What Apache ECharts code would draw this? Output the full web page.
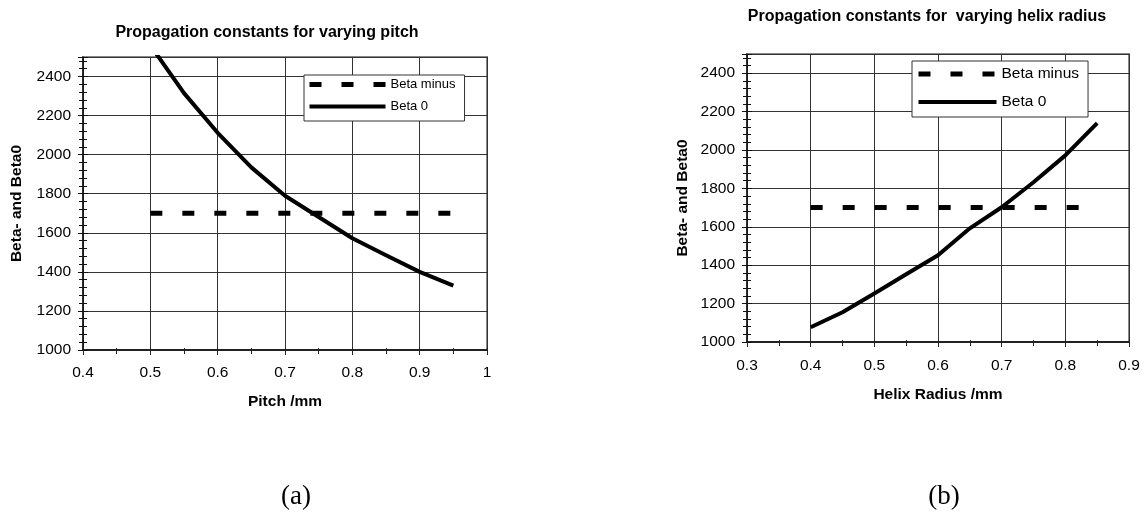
<!DOCTYPE html>
<html>
<head>
<meta charset="utf-8">
<style>
  body,
  html {
    overflow: hidden;
    width: 100%;
    height: 100%;
    margin: 0;
    padding: 0;
    background: #fff;
  }
  .chart-wrapper {
    position: relative;
    width: 1145px;
    height: 512px;
  }
</style>
</head>
<body>
<div id="chart-wrapper" class="chart-wrapper"></div>

<script src="https://cdn.jsdelivr.net/npm/echarts@6/dist/echarts.min.js"></script>

<script>
  // (a) varying pitch
  const pitchX = [0.5, 0.55, 0.6, 0.65, 0.7, 0.75, 0.8, 0.85, 0.9, 0.95];
  const pitchBeta0 = [2560, 2315, 2112, 1935, 1790, 1681, 1572, 1485, 1400, 1330];
  const pitchBetaMinus = [1700, 1700, 1700, 1700, 1700, 1700, 1700, 1700, 1700, 1700];

  // (b) varying helix radius
  const radiusX = [0.4, 0.45, 0.5, 0.55, 0.6, 0.65, 0.7, 0.75, 0.8, 0.85];
  const radiusBeta0 = [1077, 1155, 1253, 1353, 1452, 1592, 1702, 1832, 1972, 2140];
  const radiusBetaMinus = [1700, 1700, 1700, 1700, 1700, 1700, 1700, 1700, 1700, 1700];

  const seriesNames = ["Beta minus", "Beta 0"];
  const titles = [
    "Propagation constants for varying pitch",
    "Propagation constants for  varying helix radius",
  ];
  const xNames = ["Pitch /mm", "Helix Radius /mm"];
  const yName = "Beta- and Beta0";
  const xRanges = [
    [0.4, 1.0],
    [0.3, 0.9],
  ];
  const yRange = [1000, 2500];

  const FONT = "'Liberation Sans', Arial, sans-serif";

  const zip = (xs, ys) => xs.map((x, i) => [x, ys[i]]);

  const chartDom = document.getElementById("chart-wrapper");
  const chart = echarts.init(chartDom, null, { renderer: "canvas" });

  const grids = [
    { left: 83, top: 57, width: 404, height: 293 },
    { left: 747, top: 54, width: 382, height: 288 },
  ];

  const makeX = (i, overlay) => ({
    type: "value",
    gridIndex: i,
    position: "bottom",
    min: xRanges[i][0],
    max: xRanges[i][1],
    interval: 0.1,
    name: overlay ? "" : xNames[i],
    nameLocation: "middle",
    nameGap: i === 0 ? 44 : 45,
    nameTextStyle: { fontFamily: FONT, fontWeight: "bold", fontSize: 15.5, color: "#000" },
    axisLine: { show: !overlay, onZero: false, lineStyle: { color: "#222", width: 2 } },
    axisTick: { show: true, inside: overlay, length: overlay ? 3 : 5, lineStyle: { color: "#222", width: 1 } },
    minorTick: { show: true, splitNumber: 2, length: overlay ? 2 : 4, lineStyle: { color: "#222", width: 1 } },
    axisLabel: {
      show: !overlay,
      margin: i === 0 ? 15 : 16,
      fontFamily: FONT,
      fontSize: 15.5,
      color: "#000",
      formatter: (v) => String(Math.round(v * 10) / 10),
    },
    splitLine: { show: !overlay, lineStyle: { color: "#333", width: 1 } },
    minorSplitLine: { show: false },
  });

  const makeY = (i, overlay) => ({
    type: "value",
    gridIndex: i,
    position: "left",
    min: yRange[0],
    max: yRange[1],
    interval: 200,
    name: overlay ? "" : yName,
    nameLocation: "middle",
    nameGap: i === 0 ? 58 : 56,
    nameTextStyle: { fontFamily: FONT, fontWeight: "bold", fontSize: 15.5, color: "#000" },
    axisLine: { show: !overlay, onZero: false, lineStyle: { color: "#111", width: 1.5 } },
    axisTick: { show: true, inside: overlay, length: 5, lineStyle: { color: "#111", width: 1 } },
    minorTick: { show: true, splitNumber: 5, length: 4, lineStyle: { color: "#111", width: 1 } },
    axisLabel: {
      show: !overlay,
      margin: 12,
      fontFamily: FONT,
      fontSize: 15.5,
      color: "#000",
      showMaxLabel: false,
      formatter: (v) => (v >= yRange[1] ? "" : String(v)),
    },
    splitLine: { show: !overlay, lineStyle: { color: "#333", width: 1 } },
    minorSplitLine: { show: false },
  });

  const dashStyle = { color: "#000", width: 5, type: [12, 20], cap: "butt" };
  const solidStyle = { color: "#000", width: 4, type: "solid", cap: "butt", join: "round" };

  const makeSeries = (i, xs, minus, beta0) => [
    {
      type: "line",
      name: seriesNames[0],
      xAxisIndex: i * 2,
      yAxisIndex: i * 2,
      data: zip(xs, minus),
      symbol: "none",
      showSymbol: false,
      lineStyle: dashStyle,
      animation: false,
      z: 3,
    },
    {
      type: "line",
      name: seriesNames[1],
      xAxisIndex: i * 2,
      yAxisIndex: i * 2,
      data: zip(xs, beta0),
      symbol: "none",
      showSymbol: false,
      lineStyle: solidStyle,
      animation: false,
      z: 4,
    },
  ];

  const makeLegend = (i) => ({
    show: true,
    orient: "vertical",
    left: i === 0 ? 304 : 912,
    top: i === 0 ? 75 : 61,
    padding: i === 0 ? [3, 9, 8, 3] : [5, 9, 7, 4],
    itemWidth: i === 0 ? 76 : 78,
    itemHeight: i === 0 ? 14 : 16,
    itemGap: i === 0 ? 9 : 12,
    selectedMode: false,
    backgroundColor: "#fff",
    borderColor: "#333",
    borderWidth: 1,
    borderRadius: 0,
    data: seriesNames,
    itemStyle: { opacity: 0 },
    lineStyle: { width: "inherit", type: "inherit", color: "#000" },
    textStyle: {
      fontFamily: FONT,
      fontSize: i === 0 ? 13 : 15.5,
      color: "#000",
    },
    z: 10,
  });

  const option = {
    backgroundColor: "#fff",
    animation: false,
    textStyle: { fontFamily: FONT },
    title: [
      {
        text: titles[0],
        left: 267,
        top: 25,
        padding: 0,
        textAlign: "center",
        textStyle: { fontFamily: FONT, fontWeight: "bold", fontSize: 16, color: "#000" },
      },
      {
        text: titles[1],
        left: 927,
        top: 9,
        padding: 0,
        textAlign: "center",
        textStyle: { fontFamily: FONT, fontWeight: "bold", fontSize: 16, color: "#000" },
      },
    ],
    legend: [makeLegend(0), makeLegend(1)],
    grid: grids.map((g) => ({
      ...g,
      show: true,
      backgroundColor: "#fff",
      borderColor: "#888",
      borderWidth: 2,
      containLabel: false,
      outerBoundsMode: "none",
    })),
    xAxis: [makeX(0, false), makeX(0, true), makeX(1, false), makeX(1, true)],
    yAxis: [makeY(0, false), makeY(0, true), makeY(1, false), makeY(1, true)],
    series: [
      ...makeSeries(0, pitchX, pitchBetaMinus, pitchBeta0),
      ...makeSeries(1, radiusX, radiusBetaMinus, radiusBeta0),
    ],
    graphic: [
      {
        type: "text",
        x: 296,
        y: 497,
        style: {
          text: "(a)",
          textAlign: "center",
          textVerticalAlign: "middle",
          font: "27px 'Liberation Serif', 'Times New Roman', serif",
          fill: "#000",
        },
      },
      {
        type: "text",
        x: 944,
        y: 497,
        style: {
          text: "(b)",
          textAlign: "center",
          textVerticalAlign: "middle",
          font: "27px 'Liberation Serif', 'Times New Roman', serif",
          fill: "#000",
        },
      },
    ],
  };

  chart.setOption(option);
</script>
</body>
</html>
